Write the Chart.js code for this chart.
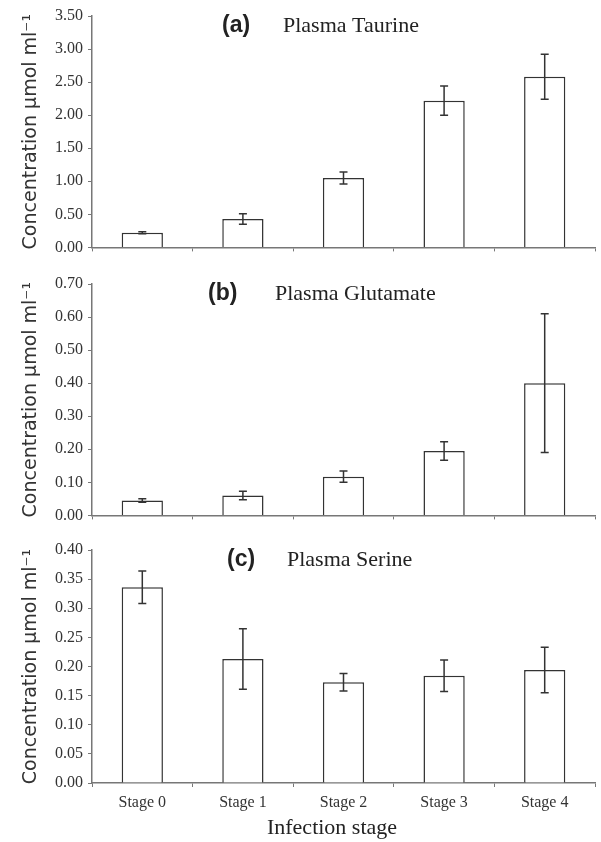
<!DOCTYPE html>
<html>
<head>
<meta charset="utf-8">
<script src="https://cdn.jsdelivr.net/npm/chart.js@4.4.0/dist/chart.umd.min.js"></script>
<style>
  body { margin: 0; background: #fff; }
  canvas { position: absolute; left: 0; }
</style>
</head>
<body>
<canvas id="chartA" width="601" height="262" style="top:0px"></canvas>
<canvas id="chartB" width="601" height="262" style="top:268px"></canvas>
<canvas id="chartC" width="601" height="308" style="top:534px"></canvas>
<script>
// values (mean and +/- error)
const stages = ['Stage 0', 'Stage 1', 'Stage 2', 'Stage 3', 'Stage 4'];
const taurine = [0.22, 0.43, 1.05, 2.22, 2.58];
const taurineErr = [0.015, 0.08, 0.09, 0.22, 0.34];
const glutamate = [0.045, 0.06, 0.117, 0.195, 0.40];
const glutamateErr = [0.005, 0.013, 0.017, 0.028, 0.21];
const serine = [0.336, 0.213, 0.173, 0.184, 0.194];
const serineErr = [0.028, 0.052, 0.015, 0.027, 0.039];

const serif = '"Liberation Serif", "Times New Roman", serif';
const sans = '"DejaVu Sans", sans-serif';

// error bars on top of the bars
const errorBars = {
  id: 'errorBars',
  afterDatasetsDraw(chart, args, opts) {
    const ctx = chart.ctx;
    const y = chart.scales.y;
    const vals = chart.data.datasets[0].data;
    ctx.save();
    ctx.strokeStyle = '#333';
    ctx.lineWidth = 1.5;
    chart.getDatasetMeta(0).data.forEach((bar, i) => {
      const top = y.getPixelForValue(vals[i] + opts.errors[i]);
      const bot = y.getPixelForValue(vals[i] - opts.errors[i]);
      ctx.beginPath();
      ctx.moveTo(bar.x, top); ctx.lineTo(bar.x, bot);
      ctx.moveTo(bar.x - 4, top); ctx.lineTo(bar.x + 4, top);
      ctx.moveTo(bar.x - 4, bot); ctx.lineTo(bar.x + 4, bot);
      ctx.stroke();
    });
    ctx.restore();
  }
};

// "(a)  Plasma Taurine" style heading, two fonts; plus the x title on the last panel
const panelTitle = {
  id: 'panelTitle',
  afterDraw(chart, args, opts) {
    const ctx = chart.ctx;
    const base = chart.chartArea.top + 16;
    ctx.save();
    ctx.fillStyle = '#222';
    ctx.textBaseline = 'alphabetic';
    ctx.font = 'bold 23px "Liberation Sans", Arial, sans-serif';
    ctx.fillText(opts.tag, opts.tagX, base);
    ctx.font = '22px ' + serif;
    ctx.fillText(opts.text, opts.textX, base);
    if (opts.xTitle) {
      ctx.textAlign = 'center';
      ctx.textBaseline = 'middle';
      ctx.font = '22px ' + serif;
      ctx.fillText(opts.xTitle, 332, chart.chartArea.bottom + 45);
    }
    ctx.restore();
  }
};

function makeChart(id, values, errors, yMax, yStep, title, bottom) {
  const xHeight = bottom ? 59 : 13;
  return new Chart(document.getElementById(id), {
    type: 'bar',
    data: {
      labels: stages,
      datasets: [{
        data: values,
        backgroundColor: '#fff',
        borderColor: '#333',
        borderWidth: 1.5,
        barPercentage: 0.41,
        categoryPercentage: 1
      }]
    },
    options: {
      responsive: false,
      animation: false,
      layout: { padding: { top: 16, right: 6, left: 0, bottom: 0 } },
      plugins: {
        legend: { display: false },
        tooltip: { enabled: false },
        errorBars: { errors: errors },
        panelTitle: title
      },
      scales: {
        x: {
          ticks: { display: bottom, color: '#333', font: { family: serif, size: 16 }, padding: 6 },
          grid: { drawOnChartArea: false, tickLength: 4, color: '#777', offset: true },
          border: { color: '#777', width: 1.5 },
          afterFit: s => { s.height = xHeight; }
        },
        y: {
          min: 0,
          max: yMax,
          ticks: {
            stepSize: yStep, color: '#333', padding: 5,
            font: { family: serif, size: 16 },
            callback: v => Number(v).toFixed(2)
          },
          grid: { drawOnChartArea: false, tickLength: 4, color: '#777' },
          border: { color: '#777', width: 1.5 },
          title: {
            display: true, text: 'Concentration μmol ml⁻¹', color: '#333',
            font: { family: sans, size: 19 }, padding: { top: 20, bottom: 0 }
          },
          afterFit: s => { s.width = 92; }
        }
      }
    },
    plugins: [errorBars, panelTitle]
  });
}

makeChart('chartA', taurine, taurineErr, 3.5, 0.5,
  { tag: '(a)', tagX: 222, text: 'Plasma Taurine', textX: 283 }, false);
makeChart('chartB', glutamate, glutamateErr, 0.7, 0.1,
  { tag: '(b)', tagX: 208, text: 'Plasma Glutamate', textX: 275 }, false);
makeChart('chartC', serine, serineErr, 0.4, 0.05,
  { tag: '(c)', tagX: 227, text: 'Plasma Serine', textX: 287, xTitle: 'Infection stage' }, true);
</script>
</body>
</html>
